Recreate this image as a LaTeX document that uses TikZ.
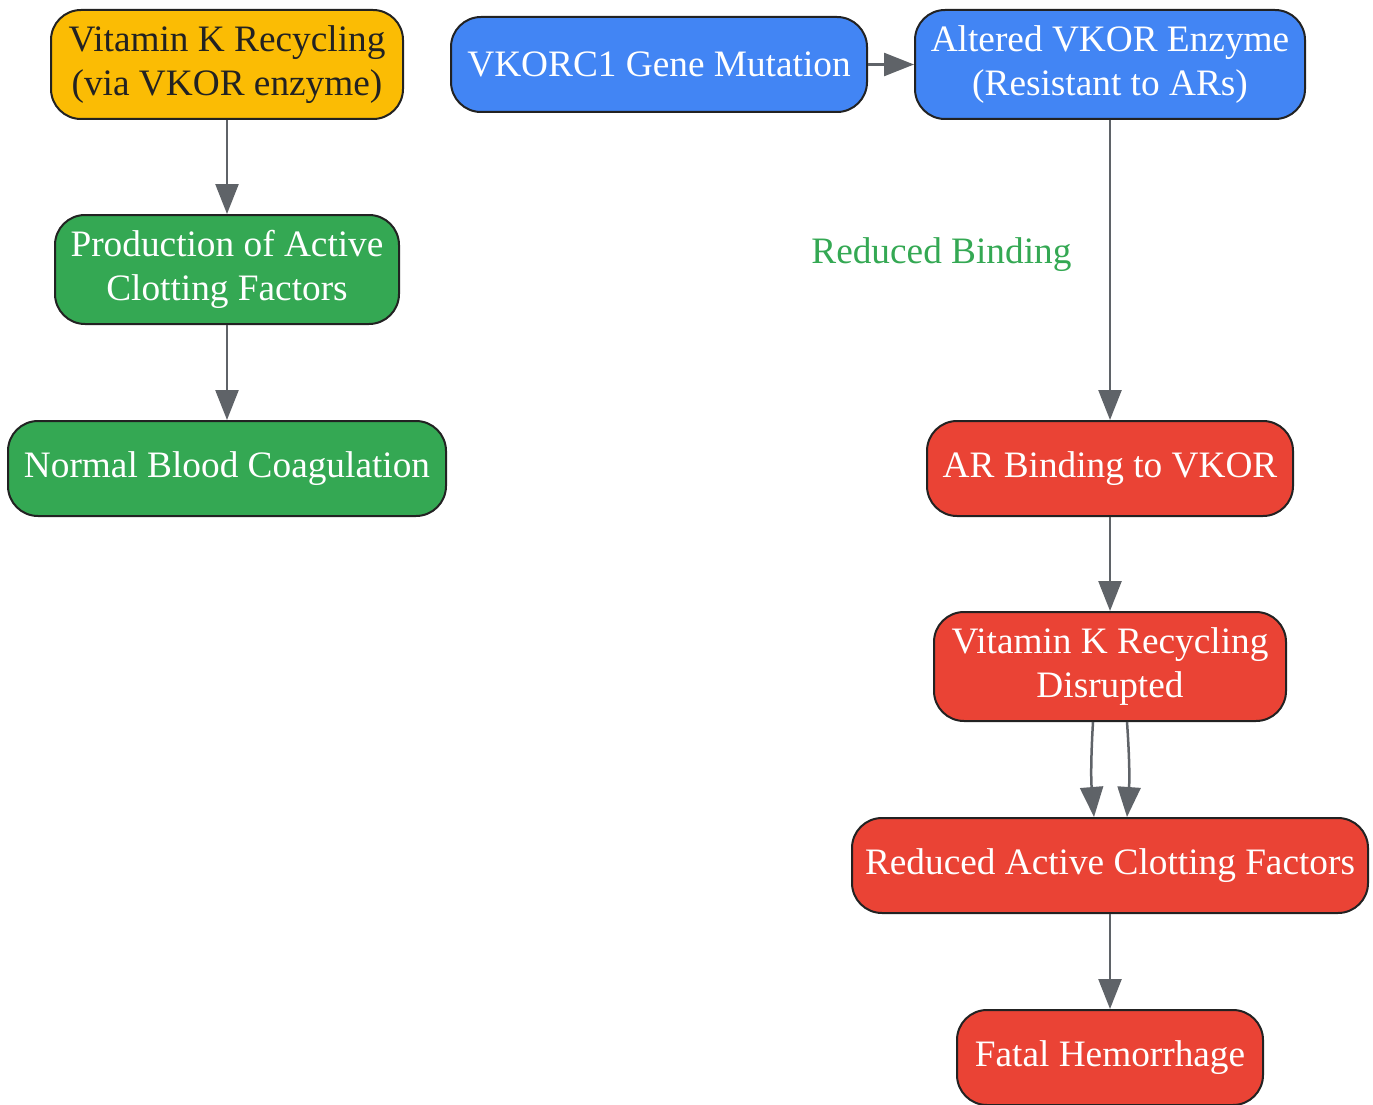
\documentclass[tikz,border=0pt]{standalone}
\usepackage{fontspec}
\setmainfont{Liberation Serif}
\usetikzlibrary{arrows.meta, positioning}
\definecolor{vkyellow}{HTML}{FBBC04}
\definecolor{vkblue}{HTML}{4285F4}
\definecolor{vkgreen}{HTML}{34A853}
\definecolor{vkred}{HTML}{EA4335}
\definecolor{linegray}{HTML}{5F6368}
\definecolor{edgedark}{HTML}{222222}
\tikzstyle{box} = [rectangle, rounded corners=30pt, minimum height=95pt, text centered, align=center, draw=edgedark, line width=2pt, inner sep=0pt, font=\fontsize{37.3}{44}\selectfont]
\tikzstyle{recycle} = [box, fill=vkyellow, text=edgedark]
\tikzstyle{mutation} = [box, fill=vkblue, text=white]
\tikzstyle{healthy} = [box, fill=vkgreen, text=white]
\tikzstyle{toxic} = [box, fill=vkred, text=white]
\tikzstyle{arrow} = [line width=2.5pt, draw=linegray, ->, >={Triangle[length=30pt,width=23pt]}]

\begin{document}
\begin{tikzpicture}[x=1pt, y=-1pt, node distance=200pt]
    \useasboundingbox (0,0) rectangle (1373,1105);
    \node (vkcycle) [recycle, minimum width=352pt, minimum height=109pt] at (227,64.5) {Vitamin K Recycling\\(via VKOR enzyme)};
    \node (prod) [healthy, below of=vkcycle, yshift=-5pt, minimum width=344pt, minimum height=109pt] {Production of Active\\Clotting Factors};
    \node (blood) [healthy, below of=prod, yshift=1pt, minimum width=438pt] {Normal Blood Coagulation};
    \node (vkorc) [mutation, right of=vkcycle, xshift=232pt, minimum width=416pt] {VKORC1 Gene Mutation};
    \node (altered) [mutation, right of=vkorc, xshift=251pt, minimum width=390pt, minimum height=109pt] {Altered VKOR Enzyme\\(Resistant to ARs)};
    \node (arbind) [toxic, below of=altered, yshift=-204pt, minimum width=366pt] {AR Binding to VKOR};
    \node (disrupt) [toxic, below of=arbind, yshift=2pt, minimum width=352pt, minimum height=109pt] {Vitamin K Recycling\\Disrupted};
    \node (reduced) [toxic, below of=disrupt, yshift=1pt, minimum width=516pt] {Reduced Active Clotting Factors};
    \node (fatal) [toxic, below of=reduced, yshift=8pt, minimum width=306pt] {Fatal Hemorrhage};

    \draw [arrow] (vkcycle) -- (prod);
    \draw [arrow] (prod) -- (blood);
    \draw [arrow] (vkorc) -- (altered);
    \draw [arrow] (altered) -- node[pos=0.45, left=34pt, text=vkgreen, font=\fontsize{37.3}{44}\selectfont] {Reduced Binding} (arbind);
    \draw [arrow] (arbind) -- (disrupt);
    \draw [arrow] ([xshift=-17pt]disrupt.south) to[bend right=4] ([xshift=-16pt]reduced.north);
    \draw [arrow] ([xshift=17pt]disrupt.south) to[bend left=4] ([xshift=17pt]reduced.north);
    \draw [arrow] (reduced) -- (fatal);
\end{tikzpicture}
\end{document}
